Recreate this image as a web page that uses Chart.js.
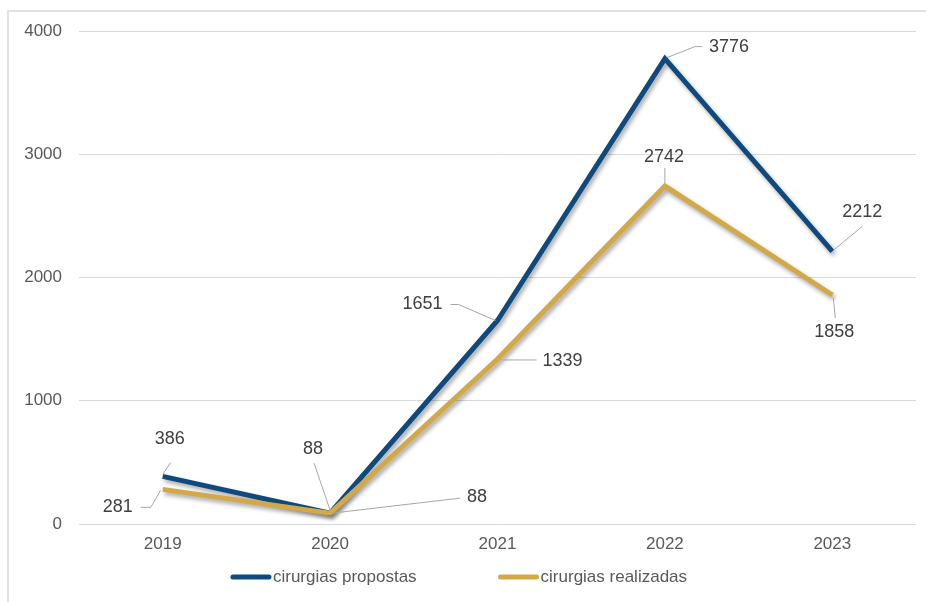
<!DOCTYPE html>
<html lang="pt">
<head>
    <meta charset="UTF-8">
    <title>Cirurgias propostas e realizadas</title>
    <script src="https://cdn.jsdelivr.net/npm/chart.js"></script>
    <style>
        html, body {
            margin: 0;
            padding: 0;
            background: #ffffff;
        }
        .frame {
            position: absolute;
            left: 7px;
            top: 10px;
            width: 930px;
            height: 600px;
            border-top: 2px solid #e2e2e2;
            border-left: 2px solid #e2e2e2;
        }
        canvas {
            position: absolute;
            left: 0;
            top: 0;
        }
    </style>
</head>
<body>
    <div class="frame"></div>
    <canvas id="surgeryChart" width="926" height="602"></canvas>

    <script>
        const years = ["2019", "2020", "2021", "2022", "2023"];
        const propostas = [386, 88, 1651, 3776, 2212];
        const realizadas = [281, 88, 1339, 2742, 1858];

        const BLUE = "#0f4a7f";
        const GOLD = "#d3a846";
        const FONT = "'Liberation Sans', Arial, sans-serif";

        Chart.defaults.font.family = FONT;

        // soft drop shadow under each line
        const lineShadow = {
            id: "lineShadow",
            beforeDatasetDraw(chart) {
                const c = chart.ctx;
                c.save();
                c.shadowColor = "rgba(0, 0, 0, 0.35)";
                c.shadowBlur = 4;
                c.shadowOffsetX = 2;
                c.shadowOffsetY = 3;
            },
            afterDatasetDraw(chart) {
                chart.ctx.restore();
            }
        };

        // value labels with grey leader lines, offsets relative to each point
        const leaderLabels = {
            id: "leaderLabels",
            afterDatasetsDraw(chart, args, opts) {
                const ctx = chart.ctx;
                chart.data.datasets.forEach((ds, i) => {
                    const meta = chart.getDatasetMeta(i);
                    const spots = opts.spots[i];
                    meta.data.forEach((pt, j) => {
                        const s = spots[j];
                        ctx.save();
                        ctx.strokeStyle = "#a6a6a6";
                        ctx.lineWidth = 1;
                        ctx.beginPath();
                        s.path.forEach(([dx, dy], k) => {
                            if (k === 0) ctx.moveTo(pt.x + dx, pt.y + dy);
                            else ctx.lineTo(pt.x + dx, pt.y + dy);
                        });
                        ctx.stroke();
                        ctx.fillStyle = "#404040";
                        ctx.font = "18px " + FONT;
                        ctx.textAlign = "center";
                        ctx.textBaseline = "middle";
                        ctx.fillText(String(ds.data[j]), pt.x + s.dx, pt.y + s.dy);
                        ctx.restore();
                    });
                });
            }
        };

        // legend row under the axis
        const bottomLegend = {
            id: "bottomLegend",
            afterDraw(chart) {
                const ctx = chart.ctx;
                const y = 577;
                const sample = 40;
                const gap = 82;
                ctx.save();
                ctx.font = "17px " + FONT;
                const items = chart.data.datasets.map(ds => ({
                    text: ds.label,
                    color: ds.borderColor,
                    w: sample + 2 + ctx.measureText(ds.label).width
                }));
                const total = items.reduce((a, it) => a + it.w, 0) + gap * (items.length - 1);
                let x = 459 - total / 2;
                items.forEach(it => {
                    ctx.strokeStyle = it.color;
                    ctx.lineWidth = 5;
                    ctx.lineCap = "round";
                    ctx.beginPath();
                    ctx.moveTo(x + 2, y);
                    ctx.lineTo(x + sample - 2, y);
                    ctx.stroke();
                    ctx.fillStyle = "#595959";
                    ctx.textAlign = "left";
                    ctx.textBaseline = "middle";
                    ctx.fillText(it.text, x + sample + 2, y);
                    x += it.w + gap;
                });
                ctx.restore();
            }
        };

        const ctx = document.getElementById("surgeryChart").getContext("2d");
        const surgeryChart = new Chart(ctx, {
            type: "line",
            data: {
                labels: years,
                datasets: [
                    {
                        label: "cirurgias propostas",
                        data: propostas,
                        borderColor: BLUE,
                        borderWidth: 5,
                        pointRadius: 0,
                        borderJoinStyle: "miter",
                        tension: 0,
                        order: 1
                    },
                    {
                        label: "cirurgias realizadas",
                        data: realizadas,
                        borderColor: GOLD,
                        borderWidth: 5,
                        pointRadius: 0,
                        borderJoinStyle: "miter",
                        tension: 0,
                        order: 0
                    }
                ]
            },
            options: {
                responsive: false,
                animation: false,
                layout: {
                    padding: { left: 0, right: 10, top: 31, bottom: 42 }
                },
                plugins: {
                    legend: { display: false },
                    tooltip: { enabled: false },
                    leaderLabels: {
                        spots: [
                            [
                                { dx: 7, dy: -37, path: [[0, -2], [8, -14]] },
                                { dx: -17, dy: -64, path: [[0, -3], [-16, -50]] },
                                { dx: -75, dy: -16, path: [[-2, 0], [-39, -16], [-47, -16]] },
                                { dx: 64, dy: -12, path: [[2, -1], [30, -12], [37, -12]] },
                                { dx: 30, dy: -39, path: [[1, -1], [30, -25]] }
                            ],
                            [
                                { dx: -45, dy: 18, path: [[-2, 1], [-12, 18], [-22, 18]] },
                                { dx: 147, dy: -16, path: [[2, 0], [130, -15]] },
                                { dx: 65, dy: 2, path: [[5, 1], [39, 1]] },
                                { dx: -1, dy: -29, path: [[0, -3], [0, -18]] },
                                { dx: 2, dy: 37, path: [[1, 3], [3, 23]] }
                            ]
                        ]
                    }
                },
                scales: {
                    x: {
                        offset: true,
                        grid: { display: false, drawTicks: false, offset: true },
                        border: { display: false },
                        ticks: { color: "#595959", font: { size: 17 }, padding: 10 },
                        afterFit(scale) { scale.height = 36; }
                    },
                    y: {
                        min: 0,
                        max: 4000,
                        ticks: {
                            stepSize: 1000,
                            color: "#595959",
                            font: { size: 17 },
                            padding: 17,
                            callback: v => String(v)
                        },
                        grid: { color: "#d9d9d9", drawTicks: false },
                        border: { display: false },
                        afterFit(scale) { scale.width = 79; }
                    }
                }
            },
            plugins: [lineShadow, leaderLabels, bottomLegend]
        });
    </script>
</body>
</html>
